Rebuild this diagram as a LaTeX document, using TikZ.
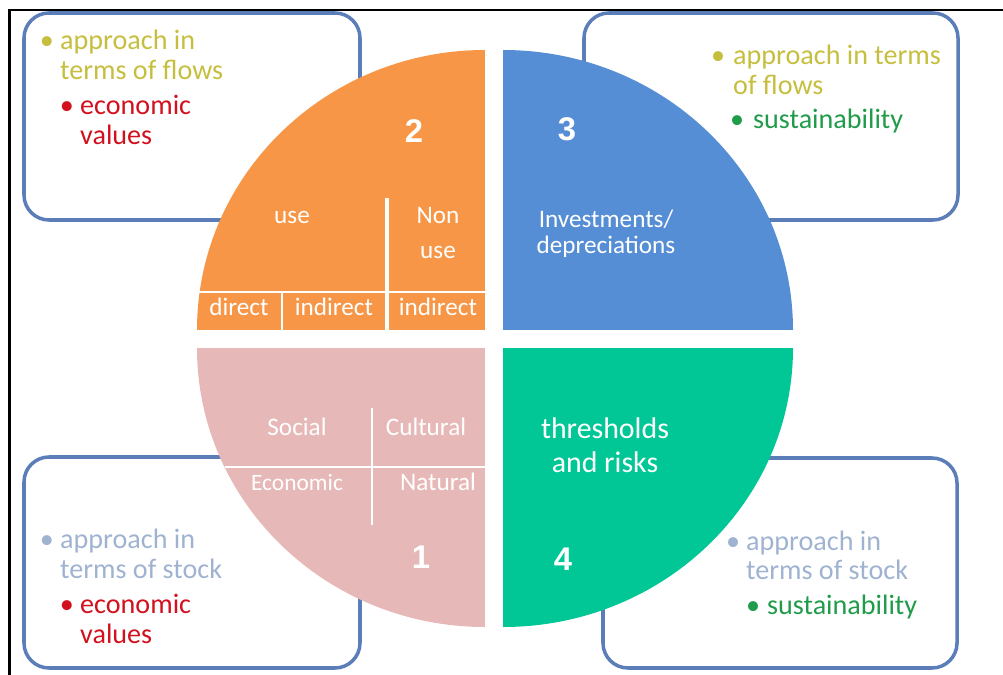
\documentclass[tikz,border=0pt]{standalone}
\usepackage{fontspec}
\setmainfont{Carlito}
\newfontfamily\numfont{Liberation Sans}
\definecolor{orangeq}{HTML}{F79646}
\definecolor{blueq}{HTML}{558ED5}
\definecolor{pinkq}{HTML}{E6B9B8}
\definecolor{greenq}{HTML}{00C795}
\definecolor{boxline}{HTML}{5B7EB9}
\definecolor{olivetxt}{HTML}{C6BE3E}
\definecolor{redtxt}{HTML}{D2101E}
\definecolor{greentxt}{HTML}{1F9B4A}
\definecolor{stocktxt}{HTML}{9FB3D1}

\begin{document}
\begin{tikzpicture}[x=0.03cm, y=-0.03cm, every node/.style={inner sep=0pt},
	box/.style={draw=boxline, line width=3pt, rounded corners=7.5mm},
	item/.style={anchor=base west, font=\fontsize{24}{26}\selectfont},
	dot/.style={anchor=base, font=\fontsize{24}{26}\selectfont},
	inner/.style={anchor=base, text=white, font=\fontsize{21.5}{24}\selectfont},
	num/.style={anchor=base, text=white, font=\numfont\bfseries\fontsize{28}{30}\selectfont},
	split/.style={draw=white, line width=1.2pt}]
			\useasboundingbox (0,0) rectangle (1003,675);
			\draw[line width=2pt] (9.5,675) -- (9.5,10) -- (1003,10);
			
			\draw[box] (24,13) rectangle (360,220);
			\draw[box] (584,13) rectangle (958,220);
			\draw[box] (24,457) rectangle (360,668);
			\draw[box] (603,458) rectangle (957,668);
			
			\begin{scope}
			\clip (485,330) ellipse [x radius=288, y radius=280];
			\fill[orangeq] (190,40) rectangle (485,330);
			\end{scope}
			\begin{scope}
			\clip (503,330) ellipse [x radius=290, y radius=280];
			\fill[blueq] (503,40) rectangle (800,330);
			\end{scope}
			\begin{scope}
			\clip (485,348) ellipse [x radius=288, y radius=279];
			\fill[pinkq] (190,348) rectangle (485,640);
			\end{scope}
			\begin{scope}
			\clip (503,348) ellipse [x radius=290, y radius=279];
			\fill[greenq] (503,348) rectangle (800,640);
			\end{scope}
			
			\draw[split] (197,292) -- (485,292);
			\draw[split] (282,292) -- (282,330);
			\draw[split, line width=3.4pt] (387,198) -- (387,330);
			\draw[split] (225,467) -- (485,467);
			\draw[split] (372,408) -- (372,525);
			
			\node[dot, text=olivetxt] (tlb1) at (47,50) {•};
			\node[item, text=olivetxt] (tlt1) at (60,50) {approach in};
			\node[item, text=olivetxt] (tlt2) at (60,80) {terms of flows};
			\node[dot, text=redtxt] (tlb2) at (67,115) {•};
			\node[item, text=redtxt] (tlt3) at (80,115) {economic};
			\node[item, text=redtxt] (tlt4) at (80,145) {values};
			
			\node[dot, text=olivetxt] (trb1) at (718,65) {•};
			\node[item, text=olivetxt] (trt1) at (733,65) {approach in terms};
			\node[item, text=olivetxt] (trt2) at (733,95) {of flows};
			\node[dot, text=greentxt] (trb2) at (737,128) {•};
			\node[item, text=greentxt] (trt3) at (753,128) {sustainability};
			
			\node[dot, text=stocktxt] (blb1) at (47,548) {•};
			\node[item, text=stocktxt] (blt1) at (60,548) {approach in};
			\node[item, text=stocktxt] (blt2) at (60,578) {terms of stock};
			\node[dot, text=redtxt] (blb2) at (67,613) {•};
			\node[item, text=redtxt] (blt3) at (80,613) {economic};
			\node[item, text=redtxt] (blt4) at (80,643) {values};
			
			\node[dot, text=stocktxt] (brb1) at (733,550) {•};
			\node[item, text=stocktxt] (brt1) at (746,550) {approach in};
			\node[item, text=stocktxt] (brt2) at (746,579) {terms of stock};
			\node[dot, text=greentxt] (brb2) at (753,614) {•};
			\node[item, text=greentxt] (brt3) at (767,614) {sustainability};
			
			\node[num] (n2) at (414,142) {2};
			\node[inner] (use1) at (292,223) {use};
			\node[inner] (non) at (438,223) {Non};
			\node[inner] (use2) at (438,258) {use};
			\node[inner] (direct) at (239,315) {direct};
			\node[inner] (indir1) at (334,315) {indirect};
			\node[inner] (indir2) at (438,315) {indirect};
			
			\node[num] (n3) at (567,140) {3};
			\node[inner] (invest) at (606,227) {Investments/};
			\node[inner] (deprec) at (606,253) {depreciations};
			
			\node[inner] (social) at (297,435) {Social};
			\node[inner] (cultural) at (426,435) {Cultural};
			\node[inner, font=\fontsize{20}{22}\selectfont] (econ) at (297,490) {Economic};
			\node[inner] (natural) at (438,490) {Natural};
			\node[num] (n1) at (421,568) {1};
			
			\node[inner, font=\fontsize{25.5}{28}\selectfont] (thresh) at (605,438) {thresholds};
			\node[inner, font=\fontsize{25.5}{28}\selectfont] (risks) at (605,472) {and risks};
			\node[num] (n4) at (563,570) {4};
			\end{tikzpicture}
\end{document}
